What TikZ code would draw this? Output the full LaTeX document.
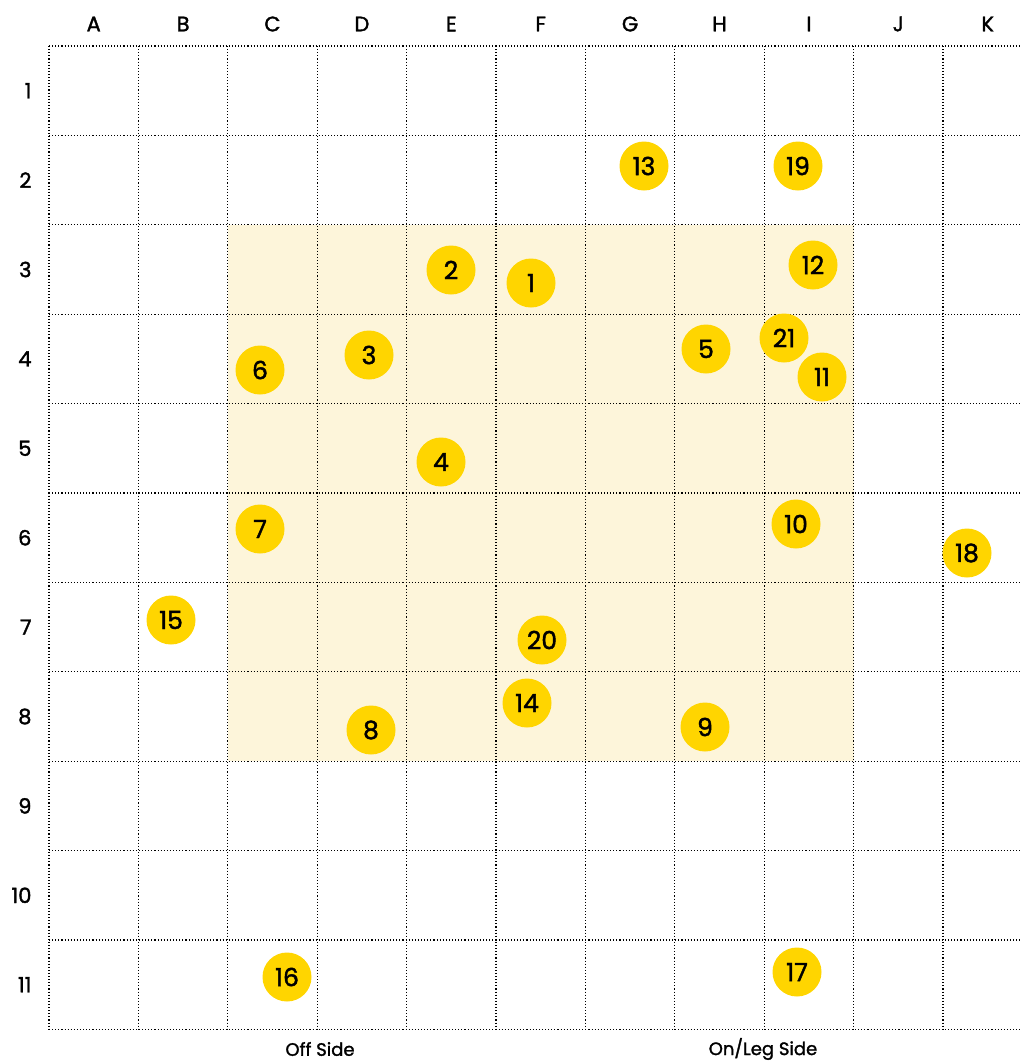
\documentclass[tikz,border=0pt]{standalone}
\usepackage{fontspec}
\setmainfont{Poppins}[FakeBold=1.6]
\definecolor{fieldergold}{HTML}{FFD500}
\definecolor{zonecream}{HTML}{FDF5DA}

\begin{document}
\begin{tikzpicture}[x=1pt, y=-1pt,
  fielder/.style={circle, fill=fieldergold, minimum size=49pt, inner sep=0pt,
                  font=\fontsize{25}{25}\selectfont},
  axislabel/.style={font=\fontsize{21}{21}\selectfont},
  sidelabel/.style={font=\fontsize{18}{18}\selectfont},
  gridline/.style={dotted, line width=1.1pt, black},
]
  \useasboundingbox (0,0) rectangle (1021,1061);

  % inner ring
  \fill[zonecream] (227.8,224.8) rectangle (853.6,761.2);

  % grid
  \foreach \i in {0,...,11} {
    \draw[gridline] ({49+\i*89.4},46) -- ({49+\i*89.4},1029.4);
    \draw[gridline] (49,{46+\i*89.4}) -- (1032,{46+\i*89.4});
  }

  \foreach \l [count=\i] in {A,B,C,D,E,F,G,H,I,J,K}
    \node[axislabel] (col\l) at ({49+(\i-0.5)*89.4},24) {\l};
  \foreach \i in {1,...,11}
    \node[axislabel, anchor=east] (row\i) at (35,{46+(\i-0.5)*89.4}) {\i};

  % fielders
  \foreach \n/\x/\y in {1/531/283, 2/451/270, 3/369/355, 4/441/462, 5/706/349,
      6/260/370, 7/260/529, 8/371/730, 9/705/727, 10/796/524, 11/822/377,
      12/813/265, 13/644/166, 14/527/703, 15/171/620, 16/287/977, 17/797/972,
      18/967/553, 19/798/166, 20/542/640, 21/784/338}
    \node[fielder] (f\n) at (\x,\y) {\n};

  \node[sidelabel] (offside) at (320,1049) {Off Side};
  \node[sidelabel] (legside) at (763,1049) {On/Leg Side};
\end{tikzpicture}
\end{document}
